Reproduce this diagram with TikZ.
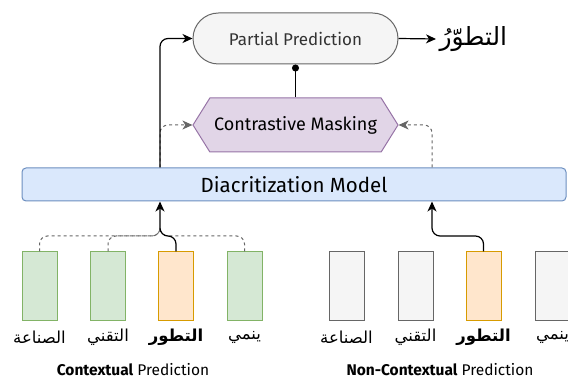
\documentclass[tikz,border=0pt]{standalone}
\usepackage{fontspec}
\setmainfont{Fira Sans}
\newfontfamily\arabicfont[Script=Arabic]{DejaVu Sans}
\TeXXeTstate=1
\usetikzlibrary{arrows.meta,shapes.symbols}

\definecolor{ctxfill}{HTML}{D5E8D4}
\definecolor{ctxline}{HTML}{82B366}
\definecolor{tgtfill}{HTML}{FFE6CC}
\definecolor{tgtline}{HTML}{D79B00}
\definecolor{offfill}{HTML}{F5F5F5}
\definecolor{offline}{HTML}{666666}
\definecolor{maskfill}{HTML}{E1D5E7}
\definecolor{maskline}{HTML}{9673A6}
\definecolor{modelfill}{HTML}{DAE8FC}
\definecolor{modelline}{HTML}{6C8EBF}
\definecolor{dashgray}{HTML}{666666}

\newcommand{\ar}[1]{{\arabicfont\beginR #1\endR}}

\begin{document}
\begin{tikzpicture}[x=1pt,y=-1pt,
    tok/.style={draw, line width=1pt, minimum width=35, minimum height=69, inner sep=0},
    ctx/.style={tok, draw=ctxline, fill=ctxfill},
    tgt/.style={tok, draw=tgtline, fill=tgtfill},
    off/.style={tok, draw=offline, fill=offfill},
    word/.style={font=\fontsize{16.5}{18}\selectfont, inner sep=1pt},
    title/.style={font=\fontsize{15.5}{17}\selectfont, inner sep=1pt},
    link/.style={line width=1.2pt, rounded corners=8, -{Stealth[length=10pt,width=9pt,inset=3pt]}},
    dashlink/.style={draw=dashgray, line width=1pt, dashed, rounded corners=8},
    dasharrow/.style={dashlink, -{Stealth[length=10pt,width=9pt,inset=3pt]}}]
  \useasboundingbox (0,0) rectangle (568,379);

  % top part
  \node[draw=offline, fill=offfill, line width=1pt, rounded corners=25.5,
        minimum width=205, minimum height=51, text=black!80,
        font=\fontsize{17}{19}\selectfont] (pred) at (295.5,38.5) {Partial Prediction};
  \node[anchor=west, font=\fontsize{25}{27}\selectfont] (out) at (436,39) {\ar{التطوّرُ}};
  \node[signal, signal to=east and west, signal pointer angle=116,
        draw=maskline, fill=maskfill, line width=1pt,
        minimum width=205, minimum height=54, inner sep=0,
        font=\fontsize{18}{20}\selectfont] (mask) at (295.5,125) {Contrastive Masking};
  \node[draw=modelline, fill=modelfill, line width=1pt, rounded corners=4,
        minimum width=544, minimum height=33,
        font=\fontsize{20.5}{22}\selectfont] (model) at (294,184.5) {Diacritization Model};

  % tokens
  \foreach \x/\s/\w [count=\i] in {39.5/ctx/{الصناعة}, 108/ctx/{التقني},
                                    176/tgt/{\bfseries التطور}, 244.5/ctx/{ينمي}} {
    \node[\s] (c\i) at (\x,286.5) {};
    \node[word] (cw\i) at (\x,337) {\ar{\w}};
  }
  \foreach \x/\s/\w [count=\i] in {346.5/off/{الصناعة}, 415.5/off/{التقني},
                                    483.5/tgt/{\bfseries التطور}, 552.5/off/{ينمي}} {
    \node[\s] (n\i) at (\x,286.5) {};
    \node[word] (nw\i) at (\x,337) {\ar{\w}};
  }
  \node[title] (ctxtitle) at (133,370) {\textbf{Contextual} Prediction};
  \node[title] (ncxtitle) at (440,370) {\textbf{Non-Contextual} Prediction};

  \coordinate (cin) at (160,236);
  \coordinate (nin) at (432,236);

  % connectors
  \foreach \i in {1,2,4}
    \draw[dashlink] (c\i.north) |- (cin) -- ++(0,-8);
  \draw[link] (c3.north) |- (cin) -- (model.south -| cin);
  \draw[link] (n3.north) |- (nin) -- (model.south -| nin);
  \draw[dasharrow] (model.north -| cin) |- (mask.west);
  \draw[dasharrow] (model.north -| nin) |- (mask.east);
  \draw[link] (model.north -| cin) |- (pred.west);
  \draw[link] (pred.east) -- (out.west);
  \draw[line width=1.2pt, -{Circle[length=7pt]}] (mask.north) -- (pred.south);
\end{tikzpicture}
\end{document}
